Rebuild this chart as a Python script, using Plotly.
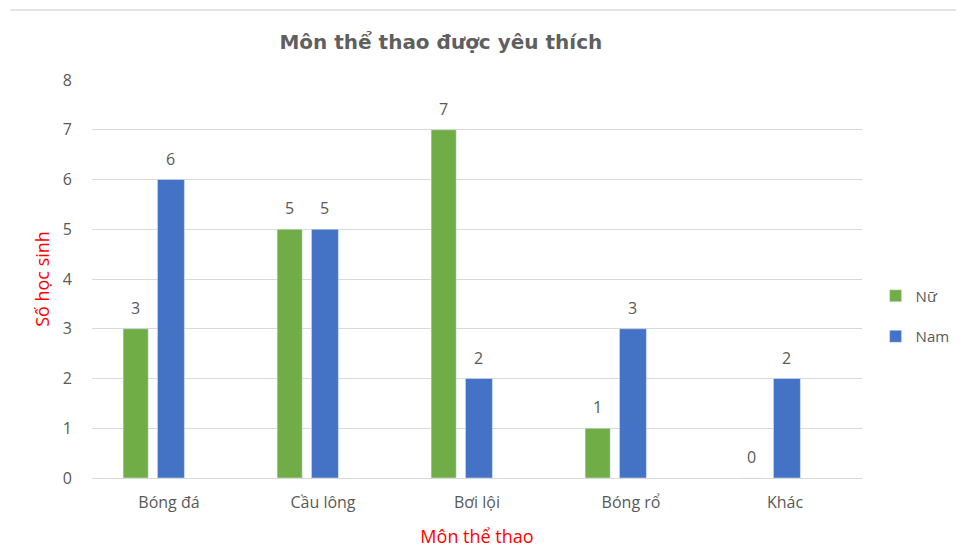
import plotly.graph_objects as go

categories = ["Bóng đá", "Cầu lông", "Bơi lội", "Bóng rổ", "Khác"]
nu_values = [3, 5, 7, 1, 0]
nam_values = [6, 5, 2, 3, 2]
y_ticks = [0, 1, 2, 3, 4, 5, 6, 7, 8]

GREEN = "#70AD47"
BLUE = "#4472C4"
GRAY = "#595959"
RED = "#FF0000"
FONT = "Open Sans, Liberation Sans, sans-serif"

# bar placement within each category slot (category units)
series = [
    dict(name="Nữ", values=nu_values, color=GREEN, offset=-0.298, width=0.163),
    dict(name="Nam", values=nam_values, color=BLUE, offset=-0.075, width=0.175),
]

fig = go.Figure()
annotations = []
for s in series:
    fig.add_trace(go.Bar(
        name=s["name"], x=categories, y=s["values"], marker_color=s["color"],
        offset=s["offset"], width=s["width"], legendgroup=s["name"],
        hoverinfo="x+y+name",
    ))
    for i, v in enumerate(s["values"]):
        annotations.append(dict(
            x=i + s["offset"] + s["width"] / 2, y=v, xref="x", yref="y",
            text=str(v), showarrow=False, yanchor="middle", yshift=21,
            font=dict(family=FONT, size=16, color=GRAY),
        ))

fig.update_layout(
    width=964, height=550,
    paper_bgcolor="white", plot_bgcolor="white",
    font=dict(family=FONT, color=GRAY, size=16),
    title=dict(text="Môn thể thao được yêu thích", x=0.449, xanchor="center",
               xref="container", y=0.938, yref="container", yanchor="middle",
               font=dict(size=20, color="#5f5f5f", family="DejaVu Sans, sans-serif", weight="bold")),
    margin=dict(l=84, r=110, t=72, b=80),
    barmode="overlay",
    legend=dict(x=0.900, xref="container", y=0.44, yref="container",
                xanchor="left", yanchor="middle", traceorder="grouped",
                font=dict(size=15, color=GRAY, family=FONT), tracegroupgap=18,
                itemwidth=30),
    xaxis=dict(
        range=[-0.5, 4.5],
        showgrid=False, showline=True, linecolor="#D9D9D9", linewidth=1,
        ticks="", tickfont=dict(size=16, color=GRAY), ticklabelstandoff=10,
        title=dict(text="Môn thể thao", font=dict(color=RED, size=18, family=FONT), standoff=18),
    ),
    yaxis=dict(
        range=[0, 8], tickvals=y_ticks, showgrid=True, gridcolor="#D9D9D9",
        zeroline=False, showline=False, ticks="",
        tickfont=dict(size=16, color=GRAY), ticklabelstandoff=19,
        title=dict(text="Số học sinh", font=dict(color=RED, size=18, family=FONT), standoff=8),
    ),
    annotations=annotations,
    shapes=[dict(type="line", xref="paper", yref="paper", x0=-0.106, x1=1.143,
                 y0=1.176, y1=1.176, line=dict(color="#E3E3E3", width=2))],
)

fig.write_html("out.html")
